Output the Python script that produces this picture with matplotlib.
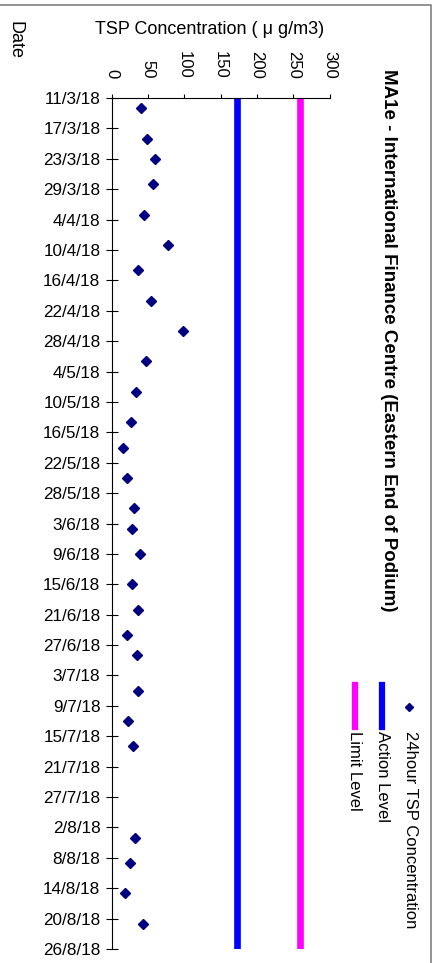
import pandas as pd
import matplotlib
matplotlib.use('Agg')
import matplotlib.pyplot as plt
from matplotlib.lines import Line2D

plt.rcParams['font.family'] = ['Liberation Sans', 'DejaVu Sans']

# 24 hour TSP results (dd/m/yy)
sample_dates = ['13/3/18', '19/3/18', '23/3/18', '28/3/18', '3/4/18', '9/4/18',
                '14/4/18', '20/4/18', '26/4/18', '2/5/18', '8/5/18', '14/5/18',
                '19/5/18', '25/5/18', '31/5/18', '4/6/18', '9/6/18', '15/6/18',
                '20/6/18', '25/6/18', '29/6/18', '6/7/18', '12/7/18', '17/7/18',
                '4/8/18', '9/8/18', '15/8/18', '21/8/18']
tsp = [40, 49, 60, 57, 45, 78, 36, 54, 98, 48, 34, 27, 16, 21, 31, 28, 39, 28,
       37, 21, 35, 37, 23, 30, 32, 26, 19, 43]

action_level = 173
limit_level = 260

date_ticks = ['11/3/18', '17/3/18', '23/3/18', '29/3/18', '4/4/18', '10/4/18',
              '16/4/18', '22/4/18', '28/4/18', '4/5/18', '10/5/18', '16/5/18',
              '22/5/18', '28/5/18', '3/6/18', '9/6/18', '15/6/18', '21/6/18',
              '27/6/18', '3/7/18', '9/7/18', '15/7/18', '21/7/18', '27/7/18',
              '2/8/18', '8/8/18', '14/8/18', '20/8/18', '26/8/18']
conc_ticks = [0, 50, 100, 150, 200, 250, 300]

dates = pd.to_datetime(sample_dates, format='%d/%m/%y')
tick_dates = pd.to_datetime(date_ticks, format='%d/%m/%y')

W, H = 437, 963
fig = plt.figure(figsize=(W/100, H/100), dpi=100)
ax = fig.add_axes([111.5/W, 14/H, 218/W, 851/H])

# chart is laid on its side: concentration across, date downwards
ax.axvline(action_level, color='#0000FF', lw=4.8, zorder=1)
ax.axvline(limit_level, color='#FF00FF', lw=4.8, zorder=1)
ax.plot(tsp, dates, ls='none', marker='D', ms=5.5, color='#000080', zorder=3)

ax.set_xlim(0, 300)
ax.set_ylim(tick_dates[-1], tick_dates[0])

ax.xaxis.tick_top()
ax.set_xticks(conc_ticks)
ax.set_xticklabels([str(t) for t in conc_ticks], rotation=-90, fontsize=12)
ax.set_yticks(tick_dates)
ax.set_yticklabels(date_ticks, fontsize=12.3)
ax.tick_params(axis='y', direction='inout', length=8, width=0.8, pad=4)
ax.tick_params(axis='x', direction='out', length=3, width=0.8, pad=11)

for s in ['right', 'bottom']:
    ax.spines[s].set_visible(False)
for s in ['left', 'top']:
    ax.spines[s].set_linewidth(0.8)

fig.text(210/W, 1 - 30/H, 'TSP Concentration ( \u03bc g/m3)', ha='center', va='center', fontsize=13)
fig.text(15/W, 1 - 21/H, 'Date', rotation=-90, ha='center', va='top', fontsize=13)
fig.text(388/W, 1 - 69/H, 'MA1e - International Finance Centre (Eastern End of Podium)',
         rotation=-90, ha='center', va='top', fontsize=13.5, fontweight='bold')

# legend, drawn rotated like the original
fig.add_artist(Line2D([409/W], [1 - 707/H], marker='D', ms=3.8, color='#000080', ls='none'))
fig.text(410/W, 1 - 731/H, '24hour TSP Concentration', rotation=-90,
         ha='center', va='top', fontsize=12)
fig.add_artist(Line2D([382/W, 382/W], [1 - 685/H, 1 - 727/H], color='#0000FF', lw=4.5))
fig.text(382/W, 1 - 731/H, 'Action Level', rotation=-90, ha='center', va='top', fontsize=12)
fig.add_artist(Line2D([355/W, 355/W], [1 - 685/H, 1 - 727/H], color='#FF00FF', lw=4.5))
fig.text(355/W, 1 - 731/H, 'Limit Level', rotation=-90, ha='center', va='top', fontsize=12)

# outer chart frame (top and right edges only are in view)
fig.add_artist(Line2D([0, 431/W, 431/W], [1 - 5/H, 1 - 5/H, 0], color='#808080', lw=1.2))

fig.savefig('out.png', dpi=100)
